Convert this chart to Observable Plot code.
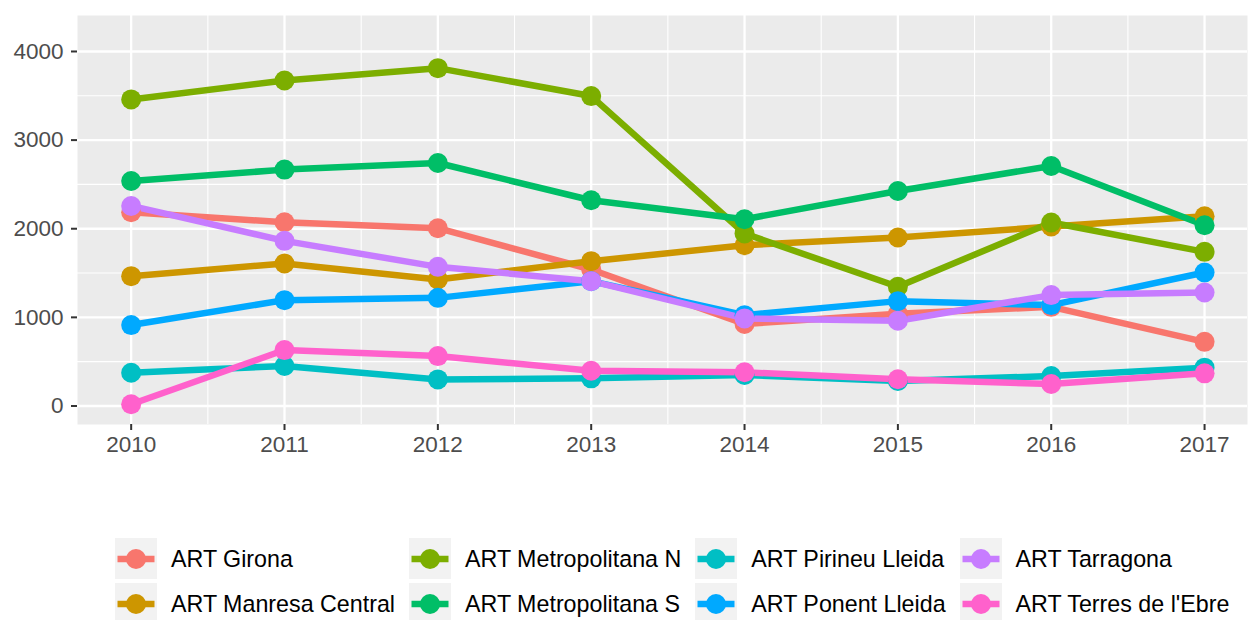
<!DOCTYPE html>
<html>
<head>
<meta charset="utf-8">
<script src="https://cdn.jsdelivr.net/npm/d3@7"></script>
<script src="https://cdn.jsdelivr.net/npm/@observablehq/plot@0.6"></script>
<style>
  html, body { margin: 0; padding: 0; background: white; }
  #wrap { position: relative; width: 1248px; height: 620px; overflow: hidden; font-family: "Liberation Sans", Arial, sans-serif; }
  #legend { position: absolute; left: 115px; top: 538px; display: grid; grid-template-rows: 41px 41px; grid-auto-flow: column; row-gap: 4px; column-gap: 14px; }
  .item { display: flex; align-items: center; height: 41px; }
  .item svg { display: block; margin-right: 14px; }
  .item span { font-size: 23.25px; color: #000; white-space: nowrap; line-height: 1; position: relative; top: 1px; }
</style>
</head>
<body>
<div id="wrap"><div id="chart"></div><div id="legend"></div></div>
<script>
const regions = ["ART Girona", "ART Manresa Central", "ART Metropolitana N", "ART Metropolitana S",
                 "ART Pirineu Lleida", "ART Ponent Lleida", "ART Tarragona", "ART Terres de l'Ebre"];
const colors = ["#F8766D", "#CD9600", "#7CAE00", "#00BE67", "#00BFC4", "#00A9FF", "#C77CFF", "#FF61CC"];
const years = [2010, 2011, 2012, 2013, 2014, 2015, 2016, 2017];
const girona    = [2186, 2073, 2006, 1540, 925, 1040, 1119, 724];
const manresa   = [1465, 1608, 1428, 1634, 1814, 1901, 2025, 2141];
const metroN    = [3459, 3673, 3812, 3497, 1946, 1345, 2070, 1739];
const metroS    = [2539, 2667, 2742, 2321, 2107, 2426, 2708, 2039];
const pirineu   = [375, 451, 300, 312, 349, 282, 338, 432];
const ponent    = [913, 1194, 1220, 1408, 1025, 1183, 1138, 1506];
const tarragona = [2257, 1863, 1570, 1408, 988, 962, 1251, 1281];
const terres    = [19, 631, 563, 398, 380, 301, 248, 368];
const yTicks = [0, 1000, 2000, 3000, 4000];
const yMinor = [500, 1500, 2500, 3500];
const xMinor = [2010.5, 2011.5, 2012.5, 2013.5, 2014.5, 2015.5, 2016.5];

const series = [girona, manresa, metroN, metroS, pirineu, ponent, tarragona, terres];
const data = regions.flatMap((r, i) => years.map((y, j) => ({region: r, year: y, value: series[i][j]})));

const font = '"Liberation Sans", Arial, sans-serif';
const chart = Plot.plot({
  width: 1248, height: 460,
  marginLeft: 77, marginRight: 1, marginTop: 15, marginBottom: 36,
  style: {fontFamily: font, fontSize: "22.5px", background: "white", overflow: "visible"},
  x: {domain: [2009.65, 2017.28]},
  y: {domain: [-209, 4406]},
  color: {domain: regions, range: colors},
  marks: [
    Plot.frame({fill: "#EBEBEB", stroke: null}),
    Plot.gridY(yMinor, {stroke: "white", strokeOpacity: 1, strokeWidth: 1.1}),
    Plot.gridX(xMinor, {stroke: "white", strokeOpacity: 1, strokeWidth: 1.1}),
    Plot.gridY(yTicks, {stroke: "white", strokeOpacity: 1, strokeWidth: 2.3}),
    Plot.gridX(years, {stroke: "white", strokeOpacity: 1, strokeWidth: 2.3}),
    Plot.line(data, {x: "year", y: "value", stroke: "region", z: "region", strokeWidth: 6.5, strokeLinecap: "butt"}),
    Plot.dot(data, {x: "year", y: "value", fill: "region", r: 10}),
    Plot.axisY(yTicks, {tickSize: 6, tickPadding: 8, stroke: "#333333", strokeWidth: 2, fill: "#4D4D4D", fontSize: 22.5, tickFormat: d => String(d), label: null}),
    Plot.axisX(years, {tickSize: 6, tickPadding: 6, stroke: "#333333", strokeWidth: 2, fill: "#4D4D4D", fontSize: 22.5, tickFormat: d => String(d), label: null})
  ]
});
document.getElementById("chart").appendChild(chart);

const legend = d3.select("#legend");
regions.forEach((r, i) => {
  const item = legend.append("div").attr("class", "item");
  const svg = item.append("svg").attr("width", 42).attr("height", 41);
  svg.append("rect").attr("width", 42).attr("height", 41).attr("fill", "#F2F2F2");
  svg.append("line").attr("x1", 2.5).attr("x2", 39.5).attr("y1", 21).attr("y2", 21)
     .attr("stroke", colors[i]).attr("stroke-width", 6.5);
  svg.append("circle").attr("cx", 21).attr("cy", 21).attr("r", 10).attr("fill", colors[i]);
  item.append("span").text(r);
});
</script>
</body>
</html>
